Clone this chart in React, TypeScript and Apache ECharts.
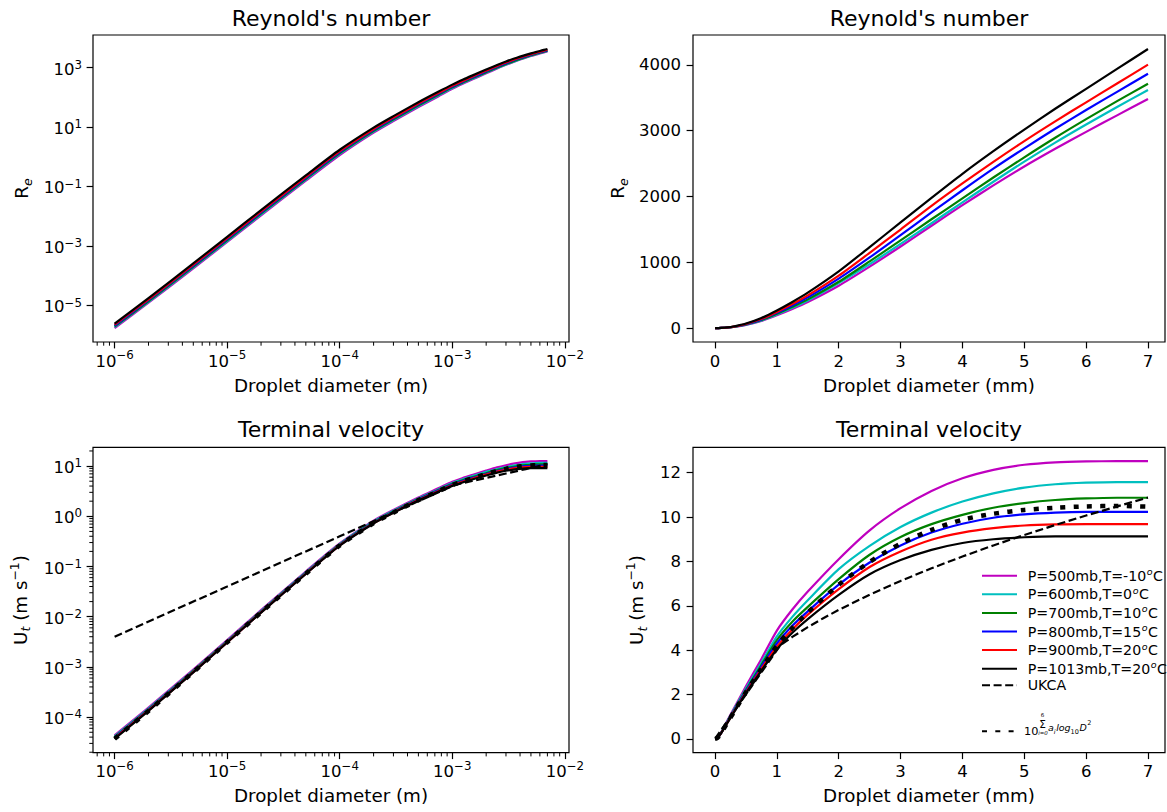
import React, { useEffect, useRef } from 'react';
import * as echarts from 'echarts';

// ---------- data ----------
const DIAM_MM = [0.001, 0.002, 0.005, 0.01, 0.02, 0.05, 0.1, 0.2, 0.3, 0.5, 0.75, 1, 1.25, 1.5, 2, 2.5, 3, 3.5, 4, 4.5, 5, 5.5, 6, 6.5, 7];
const DIAM_M = [1e-6, 2e-6, 5e-6, 1e-5, 2e-5, 5e-5, 1e-4, 2e-4, 3e-4, 5e-4, 7.5e-4, 1e-3, 1.25e-3, 1.5e-3, 2e-3, 2.5e-3, 3e-3, 3.5e-3, 4e-3, 4.5e-3, 5e-3, 5.5e-3, 6e-3, 6.5e-3, 7e-3];

const CASE_NAMES = ['P=500mb,T=-10°C', 'P=600mb,T=0°C', 'P=700mb,T=10°C', 'P=800mb,T=15°C', 'P=900mb,T=20°C', 'P=1013mb,T=20°C'];
const CASE_COLORS = ['#bf00bf', '#00bfbf', '#008000', '#0000ff', '#ff0000', '#000000'];

// Terminal velocity (m/s)
const UT_500 = [4.35e-5, 1.55e-4, 8.9e-4, 3.42e-3, 1.35e-2, 0.0795, 0.288, 0.82, 1.34, 2.37, 3.6, 4.88, 5.83, 6.64, 8.1, 9.4, 10.4, 11.18, 11.75, 12.13, 12.36, 12.47, 12.51, 12.52, 12.52];
const UT_600 = [4.15e-5, 1.48e-4, 8.5e-4, 3.28e-3, 1.3e-2, 0.0765, 0.28, 0.79, 1.29, 2.27, 3.43, 4.62, 5.5, 6.25, 7.65, 8.7, 9.55, 10.2, 10.7, 11.07, 11.33, 11.48, 11.55, 11.58, 11.58];
const UT_700 = [4.0e-5, 1.43e-4, 8.25e-4, 3.2e-3, 1.265e-2, 0.0745, 0.273, 0.765, 1.25, 2.2, 3.33, 4.45, 5.28, 5.95, 7.2, 8.3, 9.1, 9.68, 10.1, 10.42, 10.63, 10.77, 10.84, 10.87, 10.87];
const UT_800 = [3.9e-5, 1.39e-4, 8.0e-4, 3.12e-3, 1.235e-2, 0.0728, 0.267, 0.745, 1.22, 2.15, 3.25, 4.3, 5.1, 5.75, 6.95, 7.95, 8.72, 9.3, 9.7, 9.97, 10.12, 10.2, 10.23, 10.23, 10.23];
const UT_900 = [3.8e-5, 1.36e-4, 7.9e-4, 3.09e-3, 1.22e-2, 0.0718, 0.263, 0.73, 1.19, 2.1, 3.16, 4.15, 4.93, 5.6, 6.75, 7.75, 8.45, 8.98, 9.3, 9.5, 9.62, 9.67, 9.68, 9.68, 9.68];
const UT_1013 = [3.7e-5, 1.33e-4, 7.8e-4, 3.06e-3, 1.21e-2, 0.071, 0.26, 0.72, 1.17, 2.06, 3.08, 4.03, 4.78, 5.4, 6.49, 7.42, 8.06, 8.52, 8.83, 9.0, 9.09, 9.13, 9.13, 9.13, 9.13];

// Reynolds number
const RE_500 = [1.728e-6, 1.231e-5, 1.768e-4, 1.358e-3, 1.072e-2, 0.1579, 1.144, 6.514, 15.97, 47.07, 107.2, 193.8, 289.5, 395.6, 643.5, 933.4, 1239, 1554, 1867, 2168, 2455, 2724, 2981, 3232, 3481];
const RE_600 = [1.852e-6, 1.321e-5, 1.897e-4, 1.464e-3, 1.16e-2, 0.1707, 1.25, 7.052, 17.27, 50.66, 114.8, 206.2, 306.9, 418.4, 682.9, 970.8, 1279, 1593, 1910, 2223, 2529, 2818, 3093, 3360, 3618];
const RE_700 = [1.952e-6, 1.396e-5, 2.013e-4, 1.562e-3, 1.235e-2, 0.1818, 1.332, 7.466, 18.3, 53.68, 121.9, 217.1, 322.1, 435.5, 702.7, 1012.5, 1332, 1653, 1971, 2288, 2594, 2891, 3174, 3448, 3713];
const RE_800 = [2.105e-6, 1.5e-5, 2.159e-4, 1.684e-3, 1.333e-2, 0.1965, 1.441, 8.042, 19.75, 58.02, 131.6, 232.1, 344.1, 465.5, 750.2, 1072.7, 1412, 1757, 2094, 2422, 2731, 3028, 3313, 3589, 3865];
const RE_900 = [2.244e-6, 1.606e-5, 2.333e-4, 1.825e-3, 1.441e-2, 0.212, 1.553, 8.623, 21.08, 62.01, 140.0, 245.1, 364.0, 496.1, 797.3, 1144, 1497, 1856, 2197, 2525, 2841, 3141, 3430, 3716, 4002];
const RE_1013 = [2.455e-6, 1.765e-5, 2.588e-4, 2.031e-3, 1.606e-2, 0.2356, 1.725, 9.556, 23.29, 68.35, 153.3, 267.4, 396.5, 537.5, 861.3, 1231, 1605, 1979, 2344, 2688, 3016, 3332, 3635, 3938, 4241];

// polynomial fit (dotted)
const POLY_NAME = 'polyfit';
const UT_POLY = [3.7e-5, 1.33e-4, 7.9e-4, 3.1e-3, 1.22e-2, 0.072, 0.262, 0.73, 1.18, 2.1, 3.15, 4.2, 5.0, 5.7, 6.95, 7.98, 8.8, 9.42, 9.88, 10.15, 10.32, 10.42, 10.48, 10.5, 10.47];

// UKCA (dashed)
const UKCA_MM = [0.001, 0.01, 0.1, 1.056, 1.25, 1.5, 1.75, 2, 2.5, 3, 3.5, 4, 4.5, 5, 5.5, 6, 6.5, 7];
const UKCA_M = [1e-6, 1e-5, 1e-4, 1.056e-3, 1.25e-3, 1.5e-3, 1.75e-3, 2e-3, 2.5e-3, 3e-3, 3.5e-3, 4e-3, 4.5e-3, 5e-3, 5.5e-3, 6e-3, 6.5e-3, 7e-3];
const UKCA_UT = [0.004, 0.04, 0.4, 4.224, 4.596, 5.035, 5.438, 5.814, 6.5, 7.12, 7.691, 8.222, 8.721, 9.192, 9.641, 10.07, 10.48, 10.88];

// ticks
const X_LOG_MAJOR = [1e-6, 1e-5, 1e-4, 1e-3, 1e-2];
const X_LOG_MINOR = [7e-7, 8e-7, 9e-7,
  2e-6, 3e-6, 4e-6, 5e-6, 6e-6, 7e-6, 8e-6, 9e-6,
  2e-5, 3e-5, 4e-5, 5e-5, 6e-5, 7e-5, 8e-5, 9e-5,
  2e-4, 3e-4, 4e-4, 5e-4, 6e-4, 7e-4, 8e-4, 9e-4,
  2e-3, 3e-3, 4e-3, 5e-3, 6e-3, 7e-3, 8e-3, 9e-3];
const RE_LOG_MAJOR = [1e-5, 1e-3, 1e-1, 10, 1000];
const UT_LOG_MAJOR = [1e-4, 1e-3, 1e-2, 1e-1, 1, 10];
const UT_LOG_MINOR = [
  2e-5, 3e-5, 4e-5, 5e-5, 6e-5, 7e-5, 8e-5, 9e-5,
  2e-4, 3e-4, 4e-4, 5e-4, 6e-4, 7e-4, 8e-4, 9e-4,
  2e-3, 3e-3, 4e-3, 5e-3, 6e-3, 7e-3, 8e-3, 9e-3,
  2e-2, 3e-2, 4e-2, 5e-2, 6e-2, 7e-2, 8e-2, 9e-2,
  0.2, 0.3, 0.4, 0.5, 0.6, 0.7, 0.8, 0.9,
  2, 3, 4, 5, 6, 7, 8, 9, 20];
const MM_TICKS = [0, 1, 2, 3, 4, 5, 6, 7];
const RE_LIN_TICKS = [0, 1000, 2000, 3000, 4000];
const UT_LIN_TICKS = [0, 2, 4, 6, 8, 10, 12];

const UT_ALL = [UT_500, UT_600, UT_700, UT_800, UT_900, UT_1013];
const RE_ALL = [RE_500, RE_600, RE_700, RE_800, RE_900, RE_1013];

// ---------- styling ----------
const FONT = '"DejaVu Sans", sans-serif';
const TICK_FS = 16.5;
const NAME_FS = 18.3;
const TITLE_FS = 22;
const LEG_FS = 14.2;
const LW = 2.2;
const SMOOTH = 0.25;
const MINOR_LEN = 3.7;

function expLabel(v: number) {
  const e = Math.round(Math.log10(v));
  return '{b|10}{s|' + (e < 0 ? '\u2212' : '') + Math.abs(e) + '}';
}
const plainLabel = (v: number) => String(v);

const richXLog = {
  b: { fontSize: TICK_FS, fontFamily: FONT, color: '#000', height: 17, padding: [7, 0, 0, 0] },
  s: { fontSize: 11.8, fontFamily: FONT, color: '#000', height: 12, padding: [3.7, 0, 8.3, 0] },
};
const richYLog = {
  b: { fontSize: TICK_FS, fontFamily: FONT, color: '#000', height: 17, padding: [3, 0, 0, 0] },
  s: { fontSize: 11.8, fontFamily: FONT, color: '#000', height: 12, padding: [1.2, 0, 6.8, 0] },
};

const richRe = {
  a: { fontSize: NAME_FS, fontFamily: FONT, color: '#000', height: 19, padding: [0, 0, 4, 0] },
  b: { fontSize: 12.5, fontFamily: FONT, fontStyle: 'italic', color: '#000', height: 13, padding: [9, 0, 1, 0] },
};
const richUt = {
  a: { fontSize: NAME_FS, fontFamily: FONT, color: '#000', height: 19, padding: [5, 0, 4, 0] },
  b: { fontSize: 12.5, fontFamily: FONT, fontStyle: 'italic', color: '#000', height: 13, padding: [13.7, 0, 1.3, 0] },
  c: { fontSize: 12.5, fontFamily: FONT, color: '#000', height: 13, padding: [2.3, 0, 12.7, 0] },
};
const RE_NAME = '{a|R}{b|e}';
const UT_NAME = '{a|U}{b|t}{a| (m s}{c|\u22121}{a|)}';

const tickLine = { color: '#000', width: 1.2 };

const LOG_X_MIN = Math.pow(10, -6.192);
const LOG_X_MAX = Math.pow(10, -1.963);
const RE_LOG_MIN = Math.pow(10, -6.232);
const RE_LOG_MAX = Math.pow(10, 4.097);
const UT_LOG_MIN = Math.pow(10, -4.708);
const UT_LOG_MAX = Math.pow(10, 1.374);

const GRID_TL = { left: 93, top: 35, width: 476, height: 307 };
const GRID_TR = { left: 693, top: 35, width: 472, height: 307 };
const GRID_BL = { left: 93, top: 447.3, width: 476, height: 305.4 };
const GRID_BR = { left: 693, top: 447.3, width: 472, height: 305.4 };

function logXAxis(gridIndex: number) {
  return {
    type: 'log', logBase: 10, gridIndex, position: 'bottom', min: LOG_X_MIN, max: LOG_X_MAX,
    axisLine: { show: false, onZero: false },
    axisTick: { show: true, length: 6.4, lineStyle: tickLine, customValues: X_LOG_MAJOR },
    axisLabel: { customValues: X_LOG_MAJOR, formatter: expLabel, rich: richXLog, margin: 3.5 },
    splitLine: { show: false },
    name: 'Droplet diameter (m)', nameLocation: 'middle', nameGap: 34,
    nameTextStyle: { fontFamily: FONT, fontSize: NAME_FS, color: '#000' },
  };
}

function linXAxis(gridIndex: number) {
  return {
    type: 'value', gridIndex, position: 'bottom', min: -0.356, max: 7.275,
    axisLine: { show: false, onZero: false },
    axisTick: { show: true, length: 6.4, lineStyle: tickLine, customValues: MM_TICKS },
    axisLabel: { customValues: MM_TICKS, formatter: plainLabel, fontFamily: FONT, fontSize: TICK_FS, color: '#000', margin: 10.5, lineHeight: 17 },
    splitLine: { show: false },
    name: 'Droplet diameter (mm)', nameLocation: 'middle', nameGap: 34,
    nameTextStyle: { fontFamily: FONT, fontSize: NAME_FS, color: '#000' },
  };
}

function pairs(xs: number[], ys: number[]) {
  return xs.map((x, i) => [x, ys[i]]);
}

function caseSeries(xs: number[], ysList: number[][], xi: number, yi: number) {
  return CASE_NAMES.map((name, k) => ({
    type: 'line', name, xAxisIndex: xi, yAxisIndex: yi,
    data: pairs(xs, ysList[k]),
    symbol: 'none', smooth: SMOOTH,
    lineStyle: { color: CASE_COLORS[k], width: LW, join: 'round' },
    itemStyle: { color: CASE_COLORS[k] },
  }));
}

function ukcaSeries(xs: number[], xi: number, yi: number) {
  return {
    type: 'line', name: 'UKCA', xAxisIndex: xi, yAxisIndex: yi,
    data: pairs(xs, UKCA_UT), symbol: 'none', smooth: false,
    lineStyle: { color: '#000', width: LW, type: [8, 3.6] },
    itemStyle: { color: '#000' },
  };
}

function polySeries(xs: number[], xi: number, yi: number) {
  return {
    type: 'line', name: POLY_NAME, xAxisIndex: xi, yAxisIndex: yi,
    data: pairs(xs, UT_POLY), symbol: 'none', smooth: SMOOTH,
    lineStyle: { color: '#000', width: 4.5, type: [5, 8.3], cap: 'butt' },
    itemStyle: { color: '#000' },
  };
}

const legendTextRich = {
  t0: { fontSize: LEG_FS, fontFamily: FONT, color: '#000', height: 14, padding: [2, 0, 2, 5.7] },
  t: { fontSize: LEG_FS, fontFamily: FONT, color: '#000', height: 14, padding: [2, 0, 2, 0] },
  o: { fontSize: 9.5, fontFamily: FONT, fontStyle: 'italic', color: '#000', height: 9, padding: [0.5, 0.5, 8.5, 0.5] },
};

const formulaRich = {
  ei: { fontSize: 9.5, fontFamily: FONT, fontStyle: 'italic', color: '#000', height: 10, padding: [3, 0, 7, 0] },
  si: { fontSize: 6.5, fontFamily: FONT, fontStyle: 'italic', color: '#000', height: 7, padding: [9, 0.5, 4, 0] },
  sn: { fontSize: 6.5, fontFamily: FONT, color: '#000', height: 7, padding: [9, 0.5, 4, 0] },
  sp: { fontSize: 6.5, fontFamily: FONT, color: '#000', height: 7, padding: [0, 0, 13, 0.5] },
};

export default function App() {
  const ref = useRef<HTMLDivElement>(null);

  useEffect(() => {
    document.body.style.margin = '0';
    const chart = echarts.init(ref.current as HTMLDivElement, null, { renderer: 'svg' });

    const gridBase = { show: true, borderColor: '#000', borderWidth: 1.2, backgroundColor: 'transparent', containLabel: false };
    const titleText = (text: string, x: number, y: number) => ({
      type: 'text', x, y,
      style: { text, fontFamily: FONT, fontSize: TITLE_FS, fill: '#000', align: 'center', verticalAlign: 'middle' },
    });
    const smallText = (text: string, x: number, y: number, fontSize: number, italic = false, align = 'center') => ({
      type: 'text', x, y,
      style: { text, fontFamily: FONT, fontSize, fontStyle: italic ? 'italic' : 'normal', fill: '#000', align, verticalAlign: 'middle' },
    });

    const baseGraphics: any[] = [
      titleText("Reynold's number", 331, 18),
      titleText("Reynold's number", 929, 18),
      titleText('Terminal velocity', 331, 429.7),
      titleText('Terminal velocity', 929, 429.7),
      // legend label of the polynomial fit: 10^(sum_{i=0}^{6} a_i log10 D^2)
      smallText('10', 1024, 731, 11.3, false, 'left'),
      smallText('\u03a3', 1042.5, 724, 10.5),
      smallText('6', 1042.6, 715, 5.5),
      smallText('i=0', 1043, 732.6, 5.5, true),
      {
        type: 'text', x: 1048, y: 729.4,
        style: {
          text: '{ei|a}{si|i}{ei|log}{sn|10}{ei|D}{sp|2}',
          rich: formulaRich, fontFamily: FONT, fill: '#000', align: 'left', verticalAlign: 'middle',
        },
      },
    ];

    const option: any = {
      animation: false,
      backgroundColor: '#fff',
      grid: [
        { ...gridBase, ...GRID_TL },
        { ...gridBase, ...GRID_TR },
        { ...gridBase, ...GRID_BL },
        { ...gridBase, ...GRID_BR },
      ],
      xAxis: [logXAxis(0), linXAxis(1), logXAxis(2), linXAxis(3)],
      yAxis: [
        {
          type: 'log', logBase: 10, gridIndex: 0, position: 'left', min: RE_LOG_MIN, max: RE_LOG_MAX,
          axisLine: { show: false, onZero: false },
          axisTick: { show: true, length: 6.4, lineStyle: tickLine, customValues: RE_LOG_MAJOR },
          axisLabel: { customValues: RE_LOG_MAJOR, formatter: expLabel, rich: richYLog, margin: 11 },
          splitLine: { show: false },
          name: RE_NAME, nameLocation: 'middle', nameRotate: 90, nameGap: 58,
          nameTextStyle: { fontFamily: FONT, fontSize: NAME_FS, color: '#000', rich: richRe },
        },
        {
          type: 'value', gridIndex: 1, position: 'left', min: -212, max: 4453,
          axisLine: { show: false, onZero: false },
          axisTick: { show: true, length: 6.4, lineStyle: tickLine, customValues: RE_LIN_TICKS },
          axisLabel: { customValues: RE_LIN_TICKS, formatter: plainLabel, fontFamily: FONT, fontSize: TICK_FS, color: '#000', margin: 12 },
          splitLine: { show: false },
          name: RE_NAME, nameLocation: 'middle', nameRotate: 90, nameGap: 62,
          nameTextStyle: { fontFamily: FONT, fontSize: NAME_FS, color: '#000', rich: richRe },
        },
        {
          type: 'log', logBase: 10, gridIndex: 2, position: 'left', min: UT_LOG_MIN, max: UT_LOG_MAX,
          axisLine: { show: false, onZero: false },
          axisTick: { show: true, length: 6.4, lineStyle: tickLine, customValues: UT_LOG_MAJOR },
          axisLabel: { customValues: UT_LOG_MAJOR, formatter: expLabel, rich: richYLog, margin: 11 },
          splitLine: { show: false },
          name: UT_NAME, nameLocation: 'middle', nameRotate: 90, nameGap: 59.5,
          nameTextStyle: { fontFamily: FONT, fontSize: NAME_FS, color: '#000', rich: richUt },
        },
        {
          type: 'value', gridIndex: 3, position: 'left', min: -0.626, max: 13.146,
          axisLine: { show: false, onZero: false },
          axisTick: { show: true, length: 6.4, lineStyle: tickLine, customValues: UT_LIN_TICKS },
          axisLabel: { customValues: UT_LIN_TICKS, formatter: plainLabel, fontFamily: FONT, fontSize: TICK_FS, color: '#000', margin: 12 },
          splitLine: { show: false },
          name: UT_NAME, nameLocation: 'middle', nameRotate: 90, nameGap: 43,
          nameTextStyle: { fontFamily: FONT, fontSize: NAME_FS, color: '#000', rich: richUt },
        },
      ],
      legend: [
        {
          data: [...CASE_NAMES, 'UKCA'],
          orient: 'vertical', left: 981, top: 566.7, padding: 0,
          itemWidth: 35, itemHeight: 14, itemGap: 2.6,
          selectedMode: false,
          itemStyle: { opacity: 0 },
          formatter: (name: string) => {
            if (name.endsWith('°C')) return '{t0|' + name.slice(0, -2) + '}{o|o}{t|C}';
            return '{t0|' + name + '}';
          },
          textStyle: { fontFamily: FONT, fontSize: LEG_FS, color: '#000', rich: legendTextRich },
        },
        {
          data: [POLY_NAME],
          orient: 'vertical', left: 981, top: 725.7, padding: 0,
          itemWidth: 35, itemHeight: 14,
          selectedMode: false,
          itemStyle: { opacity: 0 },
          formatter: () => ' ',
          textStyle: { fontFamily: FONT, fontSize: 6, color: '#000' },
        },
      ],
      graphic: baseGraphics,
      series: [
        ...caseSeries(DIAM_M, RE_ALL, 0, 0),
        ...caseSeries(DIAM_MM, RE_ALL, 1, 1),
        ...caseSeries(DIAM_M, UT_ALL, 2, 2),
        ukcaSeries(UKCA_M, 2, 2),
        polySeries(DIAM_M, 2, 2),
        ...caseSeries(DIAM_MM, UT_ALL, 3, 3),
        ukcaSeries(UKCA_MM, 3, 3),
        polySeries(DIAM_MM, 3, 3),
      ],
    };

    chart.setOption(option);

    // Minor ticks of the log axes: positions come from the axes' own scales
    // (convertToPixel), drawn just outside the plot frames.
    const minor: any[] = [];
    const tickStyle = { stroke: '#000', lineWidth: 1 };
    const xTicks = (xAxisIndex: number, yBottom: number) => {
      X_LOG_MINOR.forEach((v) => {
        const px = chart.convertToPixel({ xAxisIndex }, v) as number;
        if (typeof px === 'number' && isFinite(px)) {
          minor.push({ type: 'line', silent: true, z: 10, shape: { x1: px, y1: yBottom, x2: px, y2: yBottom + MINOR_LEN }, style: tickStyle });
        }
      });
    };
    xTicks(0, GRID_TL.top + GRID_TL.height);
    xTicks(2, GRID_BL.top + GRID_BL.height);
    UT_LOG_MINOR.forEach((v) => {
      const py = chart.convertToPixel({ yAxisIndex: 2 }, v) as number;
      if (typeof py === 'number' && isFinite(py)) {
        minor.push({ type: 'line', silent: true, z: 10, shape: { x1: GRID_BL.left, y1: py, x2: GRID_BL.left - MINOR_LEN, y2: py }, style: tickStyle });
      }
    });
    chart.setOption({ graphic: [...baseGraphics, ...minor] });

    return () => chart.dispose();
  }, []);

  return <div ref={ref} style={{ width: 1167, height: 812 }} />;
}
